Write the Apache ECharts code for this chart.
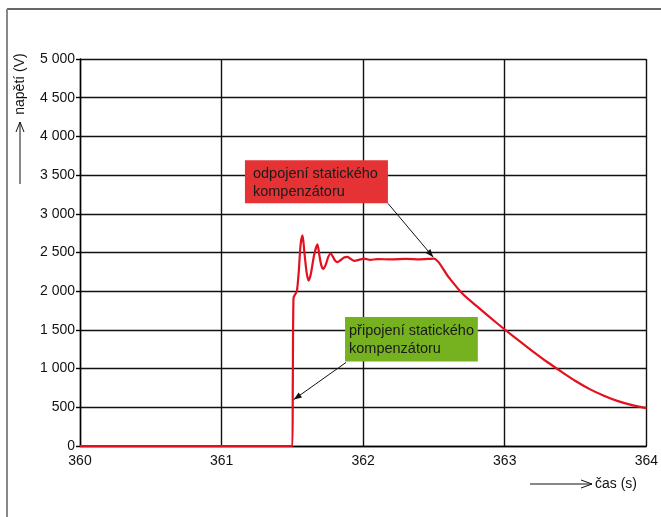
<!DOCTYPE html>
<html>
<head>
<meta charset="utf-8">
<script src="https://cdn.jsdelivr.net/npm/echarts@6/dist/echarts.min.js"></script>
<style>
html,body{margin:0;padding:0;background:#fff;}
#c{width:661px;height:517px;}
</style>
</head>
<body>
<div id="c"></div>
<script>
// Data
const timeS = [360, 361.500, 361.503, 361.508, 361.520, 361.532, 361.545, 361.558, 361.572, 361.585, 361.600, 361.614, 361.630, 361.655, 361.677, 361.692, 361.705, 361.719, 361.735, 361.755, 361.771, 361.785, 361.800, 361.818, 361.840, 361.865, 361.888, 361.910, 361.937, 361.970, 362.007, 362.050, 362.100, 362.200, 362.300, 362.400, 362.500, 362.600, 362.700, 362.800, 362.900, 363.000, 363.100, 363.200, 363.300, 363.400, 363.500, 363.600, 363.700, 363.800, 363.900, 364.000];
const voltageV = [0, 0, 800, 1913, 1960, 2000, 2250, 2600, 2720, 2500, 2250, 2137, 2220, 2480, 2604, 2450, 2330, 2289, 2340, 2450, 2487, 2450, 2400, 2375, 2400, 2435, 2444, 2420, 2392, 2405, 2422, 2405, 2415, 2410, 2418, 2412, 2420, 2190, 1970, 1810, 1655, 1505, 1360, 1220, 1085, 960, 840, 735, 650, 580, 528, 490];
const xTicks = [360, 361, 362, 363, 364];
const yTicks = [0, 500, 1000, 1500, 2000, 2500, 3000, 3500, 4000, 4500, 5000];
const yAxisTitle = 'napětí (V)';
const xAxisTitle = 'čas (s)';
const noteOff = ['odpojení statického', 'kompenzátoru'];
const noteOn = ['připojení statického', 'kompenzátoru'];

const FONT = '"Liberation Sans", Arial, sans-serif';
const chart = echarts.init(document.getElementById('c'), null, {renderer: 'canvas'});

function fmtThousands(v) {
  return String(v).replace(/\B(?=(\d{3})+(?!\d))/g, ' ');
}

function arrowHead(x1, y1, x2, y2, len, half) {
  const dx = x2 - x1, dy = y2 - y1;
  const L = Math.sqrt(dx * dx + dy * dy);
  const ux = dx / L, uy = dy / L;
  const bx = x2 - ux * len, by = y2 - uy * len;
  return [[x2, y2], [bx - uy * half, by + ux * half], [bx + uy * half, by - ux * half]];
}

const seriesData = timeS.map((t, i) => [t, voltageV[i]]);

const option = {
  animation: false,
  backgroundColor: '#fff',
  grid: {left: 80, right: 10, top: 59, bottom: 71, show: false},
  xAxis: {
    type: 'value', min: xTicks[0], max: xTicks[xTicks.length - 1], interval: 1,
    axisLine: {show: true, onZero: false, lineStyle: {color: '#000', width: 1.4}},
    axisTick: {show: false},
    splitLine: {show: true, lineStyle: {color: '#111', width: 1.4}},
    axisLabel: {color: '#111', fontFamily: FONT, fontSize: 14, margin: 8}
  },
  yAxis: {
    type: 'value', min: yTicks[0], max: yTicks[yTicks.length - 1], interval: 500,
    axisLine: {show: true, lineStyle: {color: '#000', width: 1.4}},
    axisTick: {show: true, length: 4, lineStyle: {color: '#000', width: 1.4}},
    splitLine: {show: true, lineStyle: {color: '#111', width: 1.4}},
    axisLabel: {color: '#111', fontFamily: FONT, fontSize: 14, margin: 5, formatter: v => fmtThousands(v)}
  },
  series: [{
    type: 'line',
    data: seriesData,
    showSymbol: false,
    smooth: 0.25,
    lineStyle: {color: '#e3101f', width: 2.2},
    z: 5
  }]
};
chart.setOption(option);

function px(t, v) { return chart.convertToPixel({gridIndex: 0}, [t, v]); }

const offTL = px(361.165, 3692), offBR = px(362.175, 3135);
const onTL = px(361.872, 1667), onBR = px(362.81, 1092);
const offArrowTip = px(362.495, 2440);
const onArrowTip = px(361.51, 600);

const graphics = [];
graphics.push({type: 'line', shape: {x1: 7, y1: 9, x2: 661, y2: 9}, style: {stroke: '#333', lineWidth: 1.5}, silent: true});
graphics.push({type: 'line', shape: {x1: 7, y1: 9, x2: 7, y2: 517}, style: {stroke: '#888', lineWidth: 2}, silent: true});

function box(tl, br, fill, lines, pad) {
  graphics.push({type: 'rect', shape: {x: tl[0], y: tl[1], width: br[0] - tl[0], height: br[1] - tl[1]}, style: {fill: fill}, z: 20});
  graphics.push({type: 'text', x: tl[0] + pad, y: tl[1] + 5, z: 21,
    style: {text: lines.join('\n'), fill: '#1a1a1a', font: '14.5px ' + FONT, lineHeight: 18, textVerticalAlign: 'top'}});
}
function arrow(x1, y1, x2, y2) {
  graphics.push({type: 'line', shape: {x1, y1, x2, y2}, style: {stroke: '#111', lineWidth: 1}, z: 22});
  graphics.push({type: 'polygon', shape: {points: arrowHead(x1, y1, x2, y2, 8, 3)}, style: {fill: '#111'}, z: 22});
}
box(offTL, offBR, '#e53235', noteOff, 8);
box(onTL, onBR, '#76b21f', noteOn, 4);
arrow(offBR[0], offBR[1], offArrowTip[0], offArrowTip[1]);
arrow(onTL[0] + 1, onBR[1] + 1, onArrowTip[0], onArrowTip[1]);

graphics.push({type: 'text', x: 20, y: 84, rotation: Math.PI / 2, z: 21,
  style: {text: yAxisTitle, fill: '#111', font: '14px ' + FONT, textAlign: 'center', textVerticalAlign: 'middle'}});
graphics.push({type: 'line', shape: {x1: 20, y1: 184, x2: 20, y2: 122}, style: {stroke: '#111', lineWidth: 1}});
graphics.push({type: 'polyline', shape: {points: [[16, 132], [20, 122], [24, 132]]}, style: {stroke: '#111', lineWidth: 1, fill: null}});

graphics.push({type: 'text', x: 595, y: 484, z: 21,
  style: {text: xAxisTitle, fill: '#111', font: '14px ' + FONT, textAlign: 'left', textVerticalAlign: 'middle'}});
graphics.push({type: 'line', shape: {x1: 530, y1: 484, x2: 592, y2: 484}, style: {stroke: '#111', lineWidth: 1}});
graphics.push({type: 'polyline', shape: {points: [[581, 480], [592, 484], [581, 488]]}, style: {stroke: '#111', lineWidth: 1, fill: null}});

chart.setOption({graphic: graphics});
</script>
</body>
</html>
